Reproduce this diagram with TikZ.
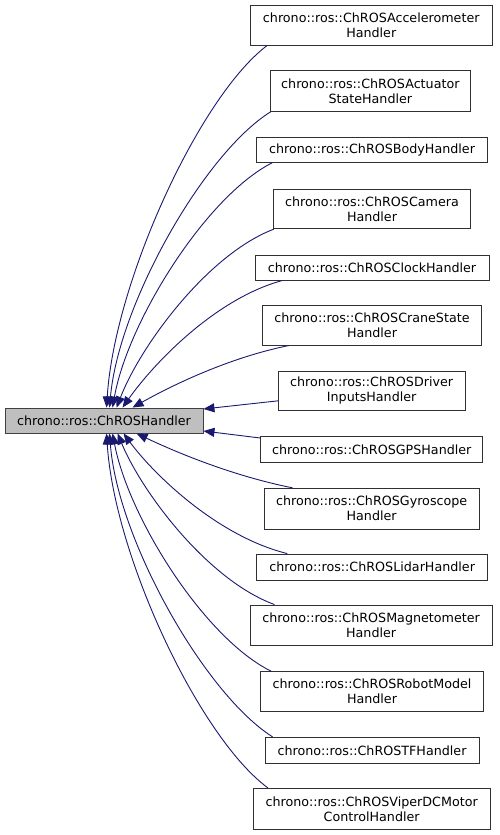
\documentclass[tikz,border=0pt]{standalone}
\usepackage{fontspec}
\setmainfont{DejaVu Sans}
\usetikzlibrary{arrows.meta}
\definecolor{edgecol}{HTML}{191970}
\definecolor{basefill}{HTML}{BFBFBF}
\definecolor{basedraw}{HTML}{404040}
\definecolor{nodedraw}{HTML}{303030}
\begin{document}
\begin{tikzpicture}[x=1pt,y=-1pt,
  cls/.style={draw=nodedraw, fill=white, line width=0.9pt, inner sep=0pt, align=center,
    font=\fontsize{12.7}{15}\selectfont},
  basecls/.style={cls, fill=basefill, draw=basedraw},
  edge/.style={draw=edgecol, line width=0.9pt, -{Triangle[length=11pt,width=9pt]}}]
\useasboundingbox (0,0) rectangle (499,835);

\node[basecls, minimum width=198pt, minimum height=25pt] (base) at (104,420.5) {chrono::ros::ChROSHandler};

\node[cls, minimum width=242.5pt, minimum height=40.5pt] (acc) at (371.25,25.25) {chrono::ros::ChROSAccelerometer\\Handler};
\node[cls, minimum width=199.3pt, minimum height=40.3pt] (act) at (370.35,90.85) {chrono::ros::ChROSActuator\\StateHandler};
\node[cls, minimum width=230.6pt, minimum height=25pt] (body) at (372,149.8) {chrono::ros::ChROSBodyHandler};
\node[cls, minimum width=197.4pt, minimum height=39.7pt] (cam) at (372,208.85) {chrono::ros::ChROSCamera\\Handler};
\node[cls, minimum width=234pt, minimum height=25pt] (clock) at (372,267.5) {chrono::ros::ChROSClockHandler};
\node[cls, minimum width=218.6pt, minimum height=40pt] (crane) at (372,325) {chrono::ros::ChROSCraneState\\Handler};
\node[cls, minimum width=186.7pt, minimum height=39.7pt] (driver) at (371.65,390.85) {chrono::ros::ChROSDriver\\InputsHandler};
\node[cls, minimum width=222pt, minimum height=26pt] (gps) at (371.7,449.7) {chrono::ros::ChROSGPSHandler};
\node[cls, minimum width=215.3pt, minimum height=40.7pt] (gyro) at (371.65,508.65) {chrono::ros::ChROSGyroscope\\Handler};
\node[cls, minimum width=231pt, minimum height=26pt] (lidar) at (372.2,567) {chrono::ros::ChROSLidarHandler};
\node[cls, minimum width=242.3pt, minimum height=40pt] (mag) at (371.15,625) {chrono::ros::ChROSMagnetometer\\Handler};
\node[cls, minimum width=222.6pt, minimum height=39.3pt] (robot) at (372,691.35) {chrono::ros::ChROSRobotModel\\Handler};
\node[cls, minimum width=214pt, minimum height=26pt] (tf) at (372,750.3) {chrono::ros::ChROSTFHandler};
\node[cls, minimum width=236.7pt, minimum height=41pt] (viper) at (371.65,808.8) {chrono::ros::ChROSViperDCMotor\\ControlHandler};

\draw[edge] ([xshift=17pt]acc.south west) .. controls +(-67,51) and +(8,-126) .. ([xshift=102pt]base.north west);
\draw[edge] ([xshift=1pt]act.south west) .. controls +(-67,41) and +(9,-103) .. ([xshift=105pt]base.north west);
\draw[edge] ([xshift=16pt]body.south west) .. controls +(-67,34) and +(15,-85) .. ([xshift=108pt]base.north west);
\draw[edge] ([xshift=1pt]cam.south west) .. controls +(-66,25) and +(24,-62) .. ([xshift=112pt]base.north west);
\draw[edge] ([xshift=28pt]clock.south west) .. controls +(-67,18) and +(31,-44) .. ([xshift=118pt]base.north west);
\draw[edge] ([xshift=27pt]crane.south west) .. controls +(-60,12) and +(39,-22) .. ([xshift=128pt]base.north west);
\draw[edge] ([yshift=-10pt]driver.west) -- ([yshift=11.5pt]base.east);
\draw[edge] ([yshift=11.7pt]gps.west) -- ([yshift=-10.5pt]base.east);
\draw[edge] ([xshift=29pt]gyro.north west) .. controls +(-60,-12) and +(40,19) .. ([xshift=132pt]base.south west);
\draw[edge] ([xshift=31pt]lidar.north west) .. controls +(-69,-17) and +(31,42) .. ([xshift=119pt]base.south west);
\draw[edge] ([xshift=25pt]mag.north west) .. controls +(-66,-24) and +(25,60) .. ([xshift=113pt]base.south west);
\draw[edge] ([xshift=11pt]robot.north west) .. controls +(-67,-33) and +(16,84) .. ([xshift=108pt]base.south west);
\draw[edge] ([xshift=8pt]tf.north west) .. controls +(-68,-43) and +(8,106) .. ([xshift=105pt]base.south west);
\draw[edge] ([xshift=15pt]viper.north west) .. controls +(-68,-50) and +(8,124) .. ([xshift=102pt]base.south west);
\end{tikzpicture}
\end{document}
